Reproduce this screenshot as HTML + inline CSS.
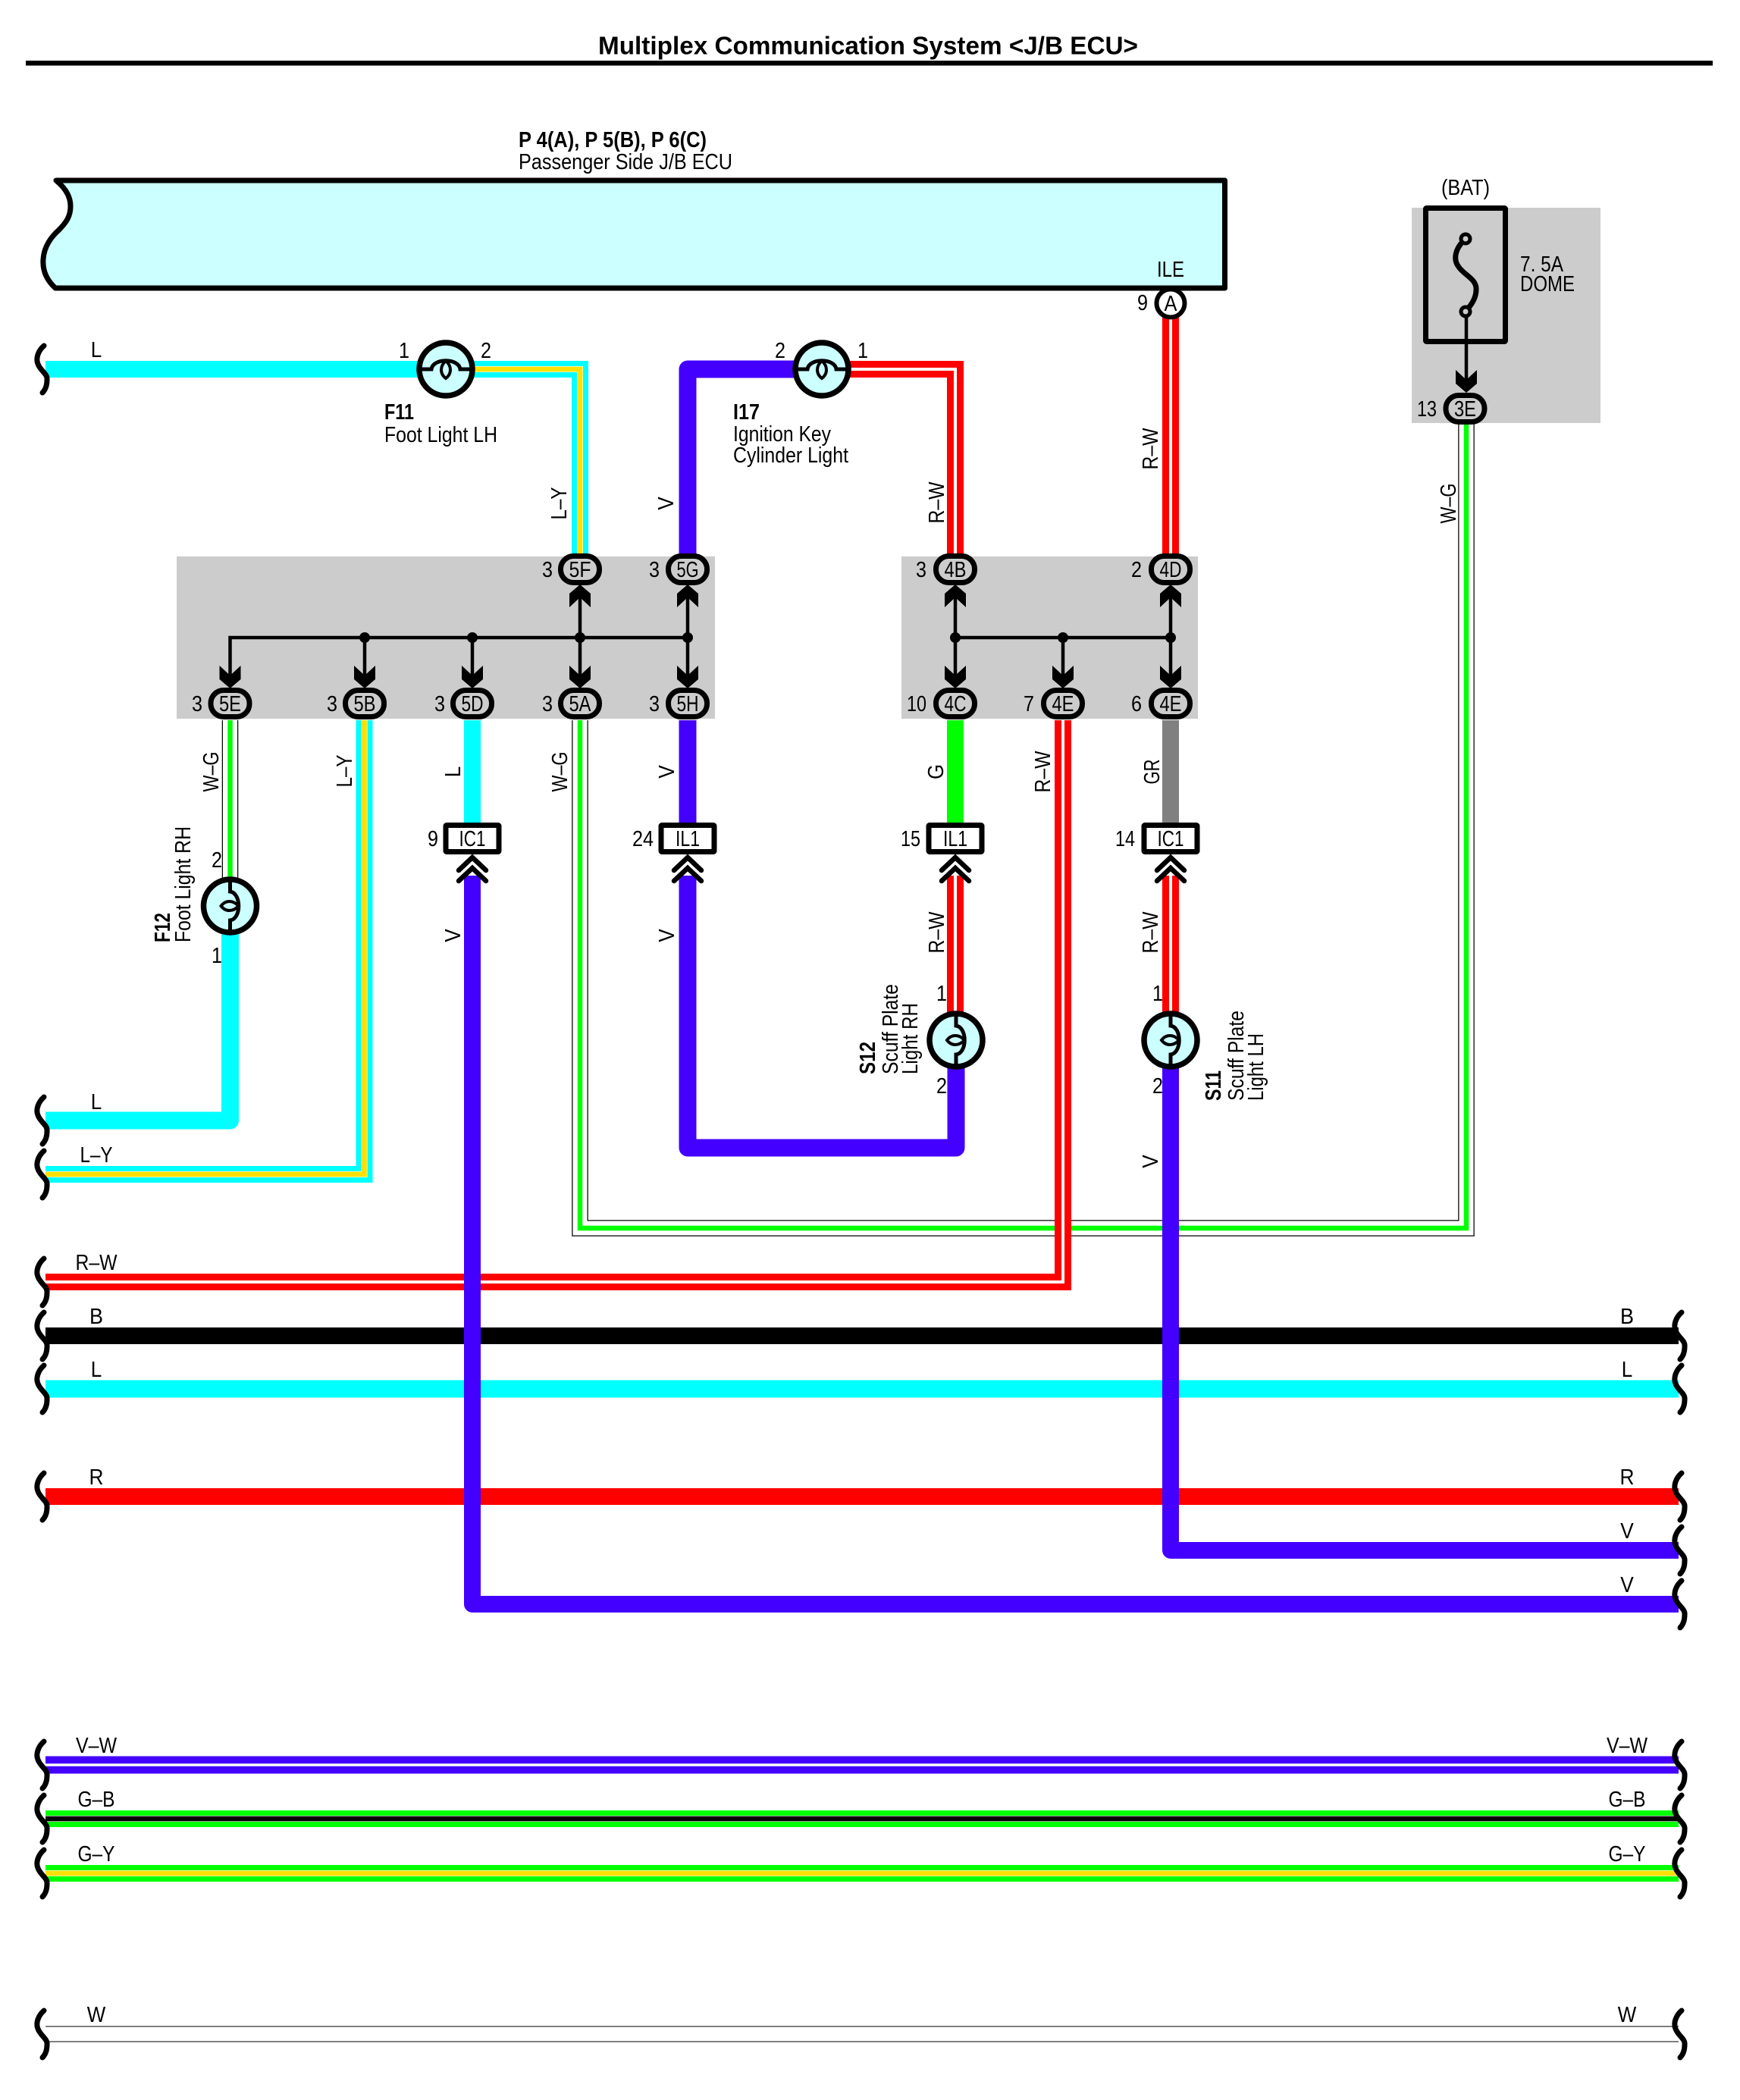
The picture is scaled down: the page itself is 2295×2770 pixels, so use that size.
<!DOCTYPE html>
<html lang="en">
<head>
<meta charset="utf-8">
<title>Multiplex Communication System &lt;J/B ECU&gt;</title>
<style>
html,body{margin:0;padding:0;background:#fff}
svg{display:block}
text{font-family:"Liberation Sans",Arial,sans-serif;font-size:29px;fill:#000}
.b{font-weight:bold}
.m{text-anchor:middle}
.e{text-anchor:end}
.w{fill:none;stroke-linejoin:miter;stroke-linecap:butt}
.r{fill:none;stroke-linejoin:round;stroke-linecap:butt}
</style>
</head>
<body>
<svg xmlns="http://www.w3.org/2000/svg" width="2295" height="2770" viewBox="0 0 2295 2770">
<defs>
<path id="br" d="M58,-31 C50,-24 47,-14 50,-7 C53,2 63,6 62,14 C62,22 60,27 56,31" fill="none" stroke="#000" stroke-width="7" stroke-linecap="round"/>
<g id="bulb">
<circle r="35" fill="#CCFFFF" stroke="#000" stroke-width="7.5"/>
<path d="M-35,0 H-19 C-17,-15 17,-15 19,0 H35" fill="none" stroke="#000" stroke-width="5"/>
<path d="M0,-11 C-8,-4 -8,6 0,12 C8,6 8,-4 0,-11 Z" fill="none" stroke="#000" stroke-width="4"/>
</g>
<rect id="ov" x="-25.5" y="-17.5" width="51" height="35" rx="17" ry="17" fill="#CCC" stroke="#000" stroke-width="7"/>
<rect id="bx" x="-35" y="-17.5" width="70" height="35" rx="1" fill="#fff" stroke="#000" stroke-width="7"/>
<path id="dn" d="M0,0 L-14,-12 V-30 L0,-17 L14,-30 V-12 Z" fill="#000"/>
<path id="up" d="M0,0 L-14,12 V30 L0,17 L14,30 V12 Z" fill="#000"/>
<g id="chev" fill="none" stroke="#000" stroke-width="6.5" stroke-linecap="round">
<path d="M-18,17 L0,0 L18,17"/>
<path d="M-18,31 L0,14 L18,31"/>
</g>
</defs>

<rect width="2295" height="2770" fill="#fff"/>

<!-- gray areas -->
<rect x="233" y="734" width="710" height="214" fill="#CCC"/>
<rect x="1189" y="734" width="391" height="214" fill="#CCC"/>
<rect x="1862" y="274" width="249" height="284" fill="#CCC"/>

<!-- title -->
<text class="b" x="789" y="71.5" style="font-size:33.5px" textLength="712" lengthAdjust="spacingAndGlyphs">Multiplex Communication System &lt;J/B ECU&gt;</text>
<rect x="34" y="80" width="2225" height="6.5" fill="#000"/>

<!-- ECU -->
<text class="b" x="684" y="194" textLength="248" lengthAdjust="spacingAndGlyphs">P 4(A), P 5(B), P 6(C)</text>
<text x="684" y="223" textLength="282" lengthAdjust="spacingAndGlyphs">Passenger Side J/B ECU</text>
<path d="M74,238 H1615.5 V380 H73 C60,368 56,355 57,342 C58,325 68,312 77,304 C88,293 93,285 93,272 C93,258 85,247 74,238 Z" fill="#CCFFFF" stroke="#000" stroke-width="7" stroke-linejoin="round"/>
<text class="m" x="1544" y="365" textLength="36" lengthAdjust="spacingAndGlyphs">ILE</text>

<!-- horizontal buses -->
<path class="r" d="M60,1762 H2214" stroke="#000" stroke-width="22"/>
<path class="r" d="M60,1832 H2214" stroke="#0FF" stroke-width="23"/>
<path class="r" d="M60,1974 H2214" stroke="#F00" stroke-width="22"/>
<path class="w" d="M60,2328 H2214" stroke="#40F" stroke-width="23"/>
<path class="w" d="M60,2328 H2214" stroke="#fff" stroke-width="3.5"/>
<path class="w" d="M60,2399 H2214" stroke="#0F0" stroke-width="22"/>
<path class="w" d="M60,2399 H2214" stroke="#fff" stroke-width="8"/>
<path class="w" d="M60,2399 H2214" stroke="#000" stroke-width="6.7"/>
<path class="w" d="M60,2471 H2214" stroke="#0F0" stroke-width="22"/>
<path class="w" d="M60,2471 H2214" stroke="#FFF" stroke-width="8"/>
<path class="w" d="M60,2471 H2214" stroke="#FFE000" stroke-width="6.7"/>
<path class="w" d="M60,2683 H2214" stroke="#000" stroke-width="21"/>
<path class="w" d="M60,2683 H2214" stroke="#fff" stroke-width="19"/>

<!-- W-G long -->
<path class="w" d="M765,950 V1620 H1934 V558" stroke="#000" stroke-width="21.5"/>
<path class="w" d="M765,950 V1620 H1934 V558" stroke="#fff" stroke-width="19"/>
<path class="w" d="M765,950 V1620 H1934 V558" stroke="#0F0" stroke-width="6.5"/>

<!-- W-G F12 -->
<path class="w" d="M303.5,950 V1165" stroke="#000" stroke-width="21.5"/>
<path class="w" d="M303.5,950 V1165" stroke="#fff" stroke-width="19"/>
<path class="w" d="M303.5,950 V1165" stroke="#0F0" stroke-width="6.5"/>

<!-- L from F12 -->
<path class="r" d="M60,1478 H303.5 V1225" stroke="#0FF" stroke-width="23"/>

<!-- L top -->
<path class="r" d="M60,487 H565" stroke="#0FF" stroke-width="22"/>

<!-- L-Y top -->
<path class="w" d="M615,487 H765 V735" stroke="#0FF" stroke-width="22"/>
<path class="w" d="M615,487 H765 V735" stroke="#fff" stroke-width="8"/>
<path class="w" d="M615,487 H765 V735" stroke="#FFE000" stroke-width="6.7"/>

<!-- L-Y lower -->
<path class="w" d="M480.5,950 V1549 H60" stroke="#0FF" stroke-width="22"/>
<path class="w" d="M480.5,950 V1549 H60" stroke="#fff" stroke-width="8"/>
<path class="w" d="M480.5,950 V1549 H60" stroke="#FFE000" stroke-width="6.7"/>

<!-- cyan, green, gray stubs -->
<path class="r" d="M623,950 V1090" stroke="#0FF" stroke-width="22"/>
<path class="r" d="M1260,950 V1090" stroke="#0F0" stroke-width="22"/>
<path class="r" d="M1544,950 V1090" stroke="#808080" stroke-width="22"/>

<!-- R-W -->
<path class="w" d="M1110,487 H1260 V735" stroke="#F00" stroke-width="22"/>
<path class="w" d="M1110,487 H1260 V735" stroke="#fff" stroke-width="4"/>
<path class="w" d="M1544,418 V735" stroke="#F00" stroke-width="22"/>
<path class="w" d="M1544,418 V735" stroke="#fff" stroke-width="4"/>
<path class="w" d="M1402,950 V1691 H60" stroke="#F00" stroke-width="22"/>
<path class="w" d="M1402,950 V1691 H60" stroke="#fff" stroke-width="4"/>
<path class="w" d="M1260,1155 V1340" stroke="#F00" stroke-width="22"/>
<path class="w" d="M1260,1155 V1340" stroke="#fff" stroke-width="4"/>
<path class="w" d="M1544,1155 V1340" stroke="#F00" stroke-width="22"/>
<path class="w" d="M1544,1155 V1340" stroke="#fff" stroke-width="4"/>

<!-- V purple -->
<path class="r" d="M1060,487 H907 V735" stroke="#40F" stroke-width="23"/>
<path class="r" d="M907,950 V1090" stroke="#40F" stroke-width="23"/>
<path class="r" d="M907,1155 V1514 H1261 V1400" stroke="#40F" stroke-width="23"/>
<path class="r" d="M623,1155 V2116 H2214" stroke="#40F" stroke-width="22"/>
<path class="r" d="M1544,1400 V2045 H2214" stroke="#40F" stroke-width="22"/>

<!-- brackets left -->
<use href="#br" y="487"/><use href="#br" y="1478"/><use href="#br" y="1549"/><use href="#br" y="1691"/><use href="#br" y="1762"/><use href="#br" y="1832"/><use href="#br" y="1974"/><use href="#br" y="2328"/><use href="#br" y="2399"/><use href="#br" y="2471"/><use href="#br" y="2683"/>
<!-- brackets right -->
<use href="#br" x="2160" y="1762"/><use href="#br" x="2160" y="1832"/><use href="#br" x="2160" y="1974"/><use href="#br" x="2160" y="2045"/><use href="#br" x="2160" y="2116"/><use href="#br" x="2160" y="2328"/><use href="#br" x="2160" y="2399"/><use href="#br" x="2160" y="2471"/><use href="#br" x="2160" y="2683"/>

<!-- bus lines in J/B -->
<g fill="none" stroke="#000" stroke-width="4.5">
<path d="M303.5,900 V841 H907"/>
<path d="M481,841 V900 M623,841 V900 M765,780 V900 M907,780 V900"/>
<path d="M1260,841 H1544 M1260,780 V900 M1402,841 V900 M1544,780 V900"/>
<path d="M1934,417 V505"/>
</g>
<g fill="#000">
<circle cx="481" cy="841" r="7"/><circle cx="623" cy="841" r="7"/><circle cx="765" cy="841" r="7"/><circle cx="907" cy="841" r="7"/>
<circle cx="1260" cy="841" r="7"/><circle cx="1402" cy="841" r="7"/><circle cx="1544" cy="841" r="7"/>
</g>
<use href="#dn" x="303.5" y="908"/><use href="#dn" x="481" y="908"/><use href="#dn" x="623" y="908"/><use href="#dn" x="765" y="908"/><use href="#dn" x="907" y="908"/>
<use href="#dn" x="1260" y="908"/><use href="#dn" x="1402" y="908"/><use href="#dn" x="1544" y="908"/>
<use href="#dn" x="1934" y="518"/>
<use href="#up" x="765" y="771"/><use href="#up" x="907" y="771"/><use href="#up" x="1260" y="771"/><use href="#up" x="1544" y="771"/>

<!-- connectors ovals -->
<use href="#ov" x="765" y="751"/><use href="#ov" x="907" y="751"/><use href="#ov" x="1260" y="751"/><use href="#ov" x="1544" y="751"/>
<use href="#ov" x="303.5" y="928"/><use href="#ov" x="481" y="928"/><use href="#ov" x="623" y="928"/><use href="#ov" x="765" y="928"/><use href="#ov" x="907" y="928"/>
<use href="#ov" x="1260" y="928"/><use href="#ov" x="1402" y="928"/><use href="#ov" x="1544" y="928"/>
<use href="#ov" x="1932.5" y="539"/>
<circle cx="1544" cy="400" r="18.5" fill="#fff" stroke="#000" stroke-width="6"/>

<!-- connector labels -->
<g>
<text class="m" x="765" y="761" textLength="29" lengthAdjust="spacingAndGlyphs">5F</text>
<text class="m" x="907" y="761" textLength="29" lengthAdjust="spacingAndGlyphs">5G</text>
<text class="m" x="1260" y="761" textLength="29" lengthAdjust="spacingAndGlyphs">4B</text>
<text class="m" x="1544" y="761" textLength="29" lengthAdjust="spacingAndGlyphs">4D</text>
<text class="m" x="303.5" y="938" textLength="29" lengthAdjust="spacingAndGlyphs">5E</text>
<text class="m" x="481" y="938" textLength="29" lengthAdjust="spacingAndGlyphs">5B</text>
<text class="m" x="623" y="938" textLength="29" lengthAdjust="spacingAndGlyphs">5D</text>
<text class="m" x="765" y="938" textLength="29" lengthAdjust="spacingAndGlyphs">5A</text>
<text class="m" x="907" y="938" textLength="29" lengthAdjust="spacingAndGlyphs">5H</text>
<text class="m" x="1260" y="938" textLength="29" lengthAdjust="spacingAndGlyphs">4C</text>
<text class="m" x="1402" y="938" textLength="29" lengthAdjust="spacingAndGlyphs">4E</text>
<text class="m" x="1544" y="938" textLength="29" lengthAdjust="spacingAndGlyphs">4E</text>
<text class="m" x="1932.5" y="549" textLength="29" lengthAdjust="spacingAndGlyphs">3E</text>
<text class="m" x="1544" y="410" textLength="17" lengthAdjust="spacingAndGlyphs">A</text>
<text class="e" x="729" y="761" textLength="14" lengthAdjust="spacingAndGlyphs">3</text>
<text class="e" x="870" y="761" textLength="14" lengthAdjust="spacingAndGlyphs">3</text>
<text class="e" x="1222" y="761" textLength="14" lengthAdjust="spacingAndGlyphs">3</text>
<text class="e" x="1506" y="761" textLength="14" lengthAdjust="spacingAndGlyphs">2</text>
<text class="e" x="267" y="938" textLength="14" lengthAdjust="spacingAndGlyphs">3</text>
<text class="e" x="445" y="938" textLength="14" lengthAdjust="spacingAndGlyphs">3</text>
<text class="e" x="587" y="938" textLength="14" lengthAdjust="spacingAndGlyphs">3</text>
<text class="e" x="729" y="938" textLength="14" lengthAdjust="spacingAndGlyphs">3</text>
<text class="e" x="870" y="938" textLength="14" lengthAdjust="spacingAndGlyphs">3</text>
<text class="e" x="1222" y="938" textLength="26" lengthAdjust="spacingAndGlyphs">10</text>
<text class="e" x="1364" y="938" textLength="14" lengthAdjust="spacingAndGlyphs">7</text>
<text class="e" x="1506" y="938" textLength="14" lengthAdjust="spacingAndGlyphs">6</text>
<text class="e" x="1895" y="549" textLength="26" lengthAdjust="spacingAndGlyphs">13</text>
<text class="e" x="1514" y="409" textLength="14" lengthAdjust="spacingAndGlyphs">9</text>
</g>

<!-- box connectors -->
<use href="#bx" x="623" y="1106"/><use href="#bx" x="907" y="1106"/><use href="#bx" x="1260" y="1106"/><use href="#bx" x="1544" y="1106"/>
<text class="m" x="623" y="1116" textLength="35" lengthAdjust="spacingAndGlyphs">IC1</text>
<text class="m" x="907" y="1116" textLength="32" lengthAdjust="spacingAndGlyphs">IL1</text>
<text class="m" x="1260" y="1116" textLength="32" lengthAdjust="spacingAndGlyphs">IL1</text>
<text class="m" x="1544" y="1116" textLength="35" lengthAdjust="spacingAndGlyphs">IC1</text>
<text class="e" x="578" y="1116" textLength="14" lengthAdjust="spacingAndGlyphs">9</text>
<text class="e" x="862" y="1116" textLength="28" lengthAdjust="spacingAndGlyphs">24</text>
<text class="e" x="1214" y="1116" textLength="26" lengthAdjust="spacingAndGlyphs">15</text>
<text class="e" x="1497" y="1116" textLength="26" lengthAdjust="spacingAndGlyphs">14</text>
<use href="#chev" x="623" y="1131"/><use href="#chev" x="907" y="1131"/><use href="#chev" x="1260" y="1131"/><use href="#chev" x="1544" y="1131"/>

<!-- bulbs -->
<use href="#bulb" transform="translate(588,487)"/>
<use href="#bulb" transform="translate(1084,487)"/>
<use href="#bulb" transform="translate(303.5,1195) rotate(90)"/>
<use href="#bulb" transform="translate(1261,1372) rotate(90)"/>
<use href="#bulb" transform="translate(1544,1372) rotate(90)"/>

<!-- fuse -->
<rect x="1880.5" y="274.5" width="105" height="176" rx="1" fill="none" stroke="#000" stroke-width="7"/>
<path d="M1930,318 C1920,328 1916,342 1924,352 C1930,362 1948,368 1947,382 C1947,392 1942,400 1937,406" fill="none" stroke="#000" stroke-width="7"/>
<circle cx="1933" cy="315" r="6" fill="#CCC" stroke="#000" stroke-width="5"/>
<circle cx="1933" cy="411" r="6" fill="#CCC" stroke="#000" stroke-width="5"/>
<text class="m" x="1933" y="257" textLength="64" lengthAdjust="spacingAndGlyphs">(BAT)</text>
<text x="2005" y="358" textLength="57" lengthAdjust="spacingAndGlyphs">7. 5A</text>
<text x="2005" y="384" textLength="72" lengthAdjust="spacingAndGlyphs">DOME</text>

<!-- component names -->
<text class="b" x="507" y="553" textLength="39" lengthAdjust="spacingAndGlyphs">F11</text>
<text x="507" y="583" textLength="149" lengthAdjust="spacingAndGlyphs">Foot Light LH</text>
<text class="m" x="533" y="472" textLength="14" lengthAdjust="spacingAndGlyphs">1</text>
<text class="m" x="641" y="472" textLength="14" lengthAdjust="spacingAndGlyphs">2</text>
<text class="b" x="967" y="553" textLength="35" lengthAdjust="spacingAndGlyphs">I17</text>
<text x="967" y="582" textLength="129" lengthAdjust="spacingAndGlyphs">Ignition Key</text>
<text x="967" y="610" textLength="152" lengthAdjust="spacingAndGlyphs">Cylinder Light</text>
<text class="m" x="1029" y="472" textLength="14" lengthAdjust="spacingAndGlyphs">2</text>
<text class="m" x="1138" y="472" textLength="14" lengthAdjust="spacingAndGlyphs">1</text>

<text class="m" x="286" y="1144" textLength="14" lengthAdjust="spacingAndGlyphs">2</text>
<text class="m" x="286" y="1270" textLength="14" lengthAdjust="spacingAndGlyphs">1</text>
<text class="m" x="1242" y="1320" textLength="14" lengthAdjust="spacingAndGlyphs">1</text>
<text class="m" x="1242" y="1442" textLength="14" lengthAdjust="spacingAndGlyphs">2</text>
<text class="m" x="1527" y="1320" textLength="14" lengthAdjust="spacingAndGlyphs">1</text>
<text class="m" x="1527" y="1442" textLength="14" lengthAdjust="spacingAndGlyphs">2</text>

<!-- rotated names -->
<text class="b" transform="translate(224,1243) rotate(-90)" textLength="39" lengthAdjust="spacingAndGlyphs">F12</text>
<text transform="translate(251,1243) rotate(-90)" textLength="153" lengthAdjust="spacingAndGlyphs">Foot Light RH</text>
<text class="b" transform="translate(1154,1417) rotate(-90)" textLength="43" lengthAdjust="spacingAndGlyphs">S12</text>
<text transform="translate(1184,1417) rotate(-90)" textLength="119" lengthAdjust="spacingAndGlyphs">Scuff Plate</text>
<text transform="translate(1210,1417) rotate(-90)" textLength="94" lengthAdjust="spacingAndGlyphs">Light RH</text>
<text class="b" transform="translate(1610,1452) rotate(-90)" textLength="40" lengthAdjust="spacingAndGlyphs">S11</text>
<text transform="translate(1640,1452) rotate(-90)" textLength="119" lengthAdjust="spacingAndGlyphs">Scuff Plate</text>
<text transform="translate(1666,1452) rotate(-90)" textLength="89" lengthAdjust="spacingAndGlyphs">Light LH</text>

<!-- rotated wire labels -->
<text class="m" transform="translate(747,664) rotate(-90)" textLength="43" lengthAdjust="spacingAndGlyphs">L–Y</text>
<text class="m" transform="translate(888,664) rotate(-90)" textLength="17.5" lengthAdjust="spacingAndGlyphs">V</text>
<text class="m" transform="translate(1245,663) rotate(-90)" textLength="55" lengthAdjust="spacingAndGlyphs">R–W</text>
<text class="m" transform="translate(1527,592) rotate(-90)" textLength="55" lengthAdjust="spacingAndGlyphs">R–W</text>
<text class="m" transform="translate(1920,664) rotate(-90)" textLength="53" lengthAdjust="spacingAndGlyphs">W–G</text>
<text class="m" transform="translate(288,1018) rotate(-90)" textLength="53" lengthAdjust="spacingAndGlyphs">W–G</text>
<text class="m" transform="translate(464,1017) rotate(-90)" textLength="43" lengthAdjust="spacingAndGlyphs">L–Y</text>
<text class="m" transform="translate(607,1018) rotate(-90)" textLength="14.5" lengthAdjust="spacingAndGlyphs">L</text>
<text class="m" transform="translate(748,1018) rotate(-90)" textLength="53" lengthAdjust="spacingAndGlyphs">W–G</text>
<text class="m" transform="translate(889,1018) rotate(-90)" textLength="17.5" lengthAdjust="spacingAndGlyphs">V</text>
<text class="m" transform="translate(1244,1018) rotate(-90)" textLength="20" lengthAdjust="spacingAndGlyphs">G</text>
<text class="m" transform="translate(1385,1018) rotate(-90)" textLength="55" lengthAdjust="spacingAndGlyphs">R–W</text>
<text class="m" transform="translate(1529,1018) rotate(-90)" textLength="33" lengthAdjust="spacingAndGlyphs">GR</text>
<text class="m" transform="translate(607,1234) rotate(-90)" textLength="17.5" lengthAdjust="spacingAndGlyphs">V</text>
<text class="m" transform="translate(889,1234) rotate(-90)" textLength="17.5" lengthAdjust="spacingAndGlyphs">V</text>
<text class="m" transform="translate(1245,1230) rotate(-90)" textLength="55" lengthAdjust="spacingAndGlyphs">R–W</text>
<text class="m" transform="translate(1527,1230) rotate(-90)" textLength="55" lengthAdjust="spacingAndGlyphs">R–W</text>
<text class="m" transform="translate(1527,1532) rotate(-90)" textLength="17.5" lengthAdjust="spacingAndGlyphs">V</text>

<!-- left wire labels -->
<text class="m" x="127" y="471" textLength="14.5" lengthAdjust="spacingAndGlyphs">L</text>
<text class="m" x="127" y="1463" textLength="14.5" lengthAdjust="spacingAndGlyphs">L</text>
<text class="m" x="127" y="1533" textLength="43" lengthAdjust="spacingAndGlyphs">L–Y</text>
<text class="m" x="127" y="1675" textLength="55" lengthAdjust="spacingAndGlyphs">R–W</text>
<text class="m" x="127" y="1746" textLength="18" lengthAdjust="spacingAndGlyphs">B</text>
<text class="m" x="127" y="1816" textLength="14.5" lengthAdjust="spacingAndGlyphs">L</text>
<text class="m" x="127" y="1958" textLength="19" lengthAdjust="spacingAndGlyphs">R</text>
<text class="m" x="127" y="2312" textLength="54" lengthAdjust="spacingAndGlyphs">V–W</text>
<text class="m" x="127" y="2383" textLength="49" lengthAdjust="spacingAndGlyphs">G–B</text>
<text class="m" x="127" y="2455" textLength="49" lengthAdjust="spacingAndGlyphs">G–Y</text>
<text class="m" x="127" y="2667" textLength="24.5" lengthAdjust="spacingAndGlyphs">W</text>

<!-- right wire labels -->
<text class="m" x="2146" y="1746" textLength="18" lengthAdjust="spacingAndGlyphs">B</text>
<text class="m" x="2146" y="1816" textLength="14.5" lengthAdjust="spacingAndGlyphs">L</text>
<text class="m" x="2146" y="1958" textLength="19" lengthAdjust="spacingAndGlyphs">R</text>
<text class="m" x="2146" y="2029" textLength="17.5" lengthAdjust="spacingAndGlyphs">V</text>
<text class="m" x="2146" y="2100" textLength="17.5" lengthAdjust="spacingAndGlyphs">V</text>
<text class="m" x="2146" y="2312" textLength="54" lengthAdjust="spacingAndGlyphs">V–W</text>
<text class="m" x="2146" y="2383" textLength="49" lengthAdjust="spacingAndGlyphs">G–B</text>
<text class="m" x="2146" y="2455" textLength="49" lengthAdjust="spacingAndGlyphs">G–Y</text>
<text class="m" x="2146" y="2667" textLength="24.5" lengthAdjust="spacingAndGlyphs">W</text>
</svg>
</body>
</html>
